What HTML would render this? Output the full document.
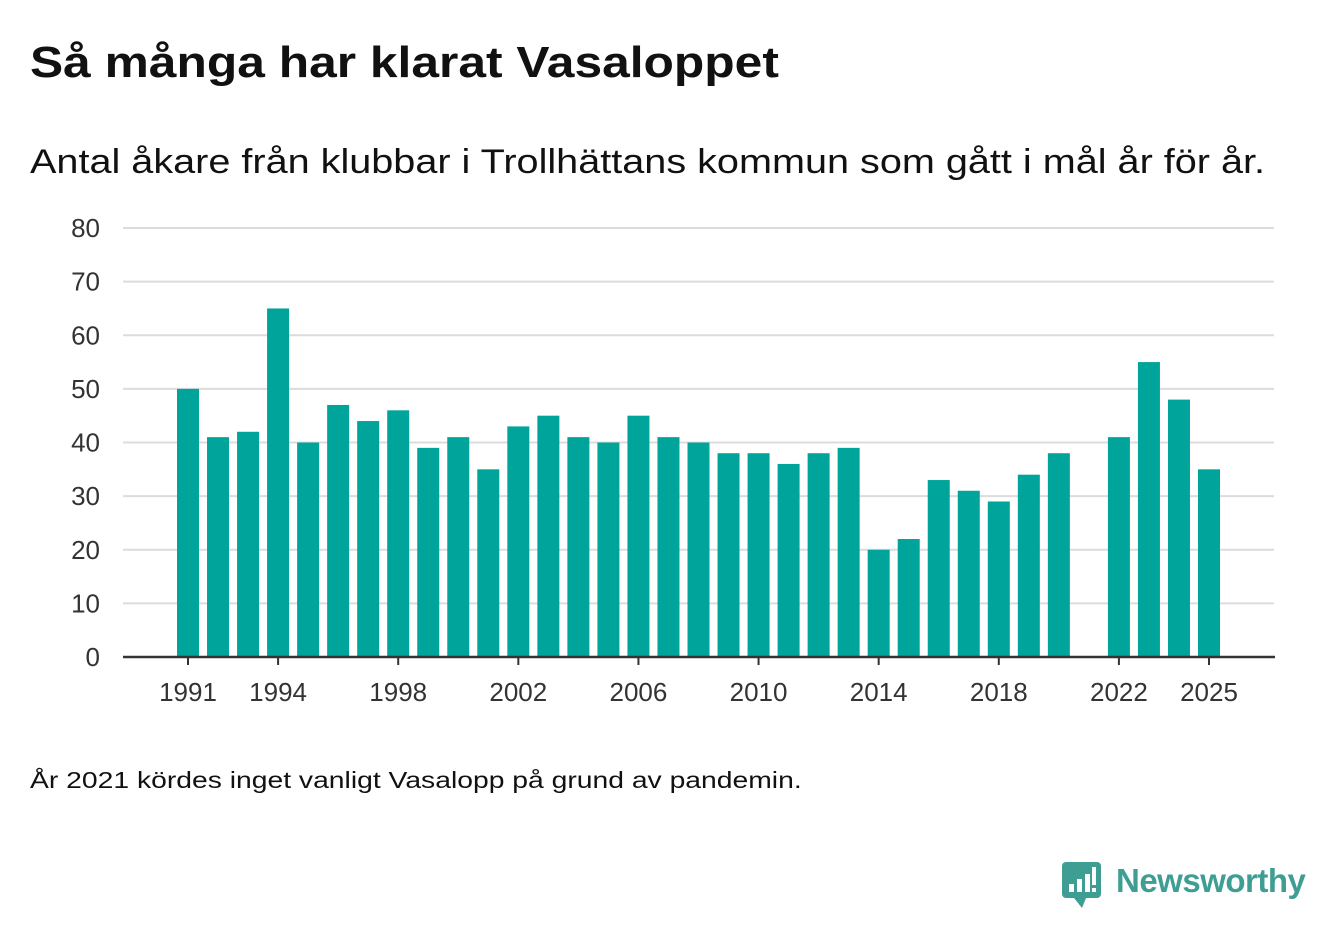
<!DOCTYPE html>
<html><head><meta charset="utf-8"><style>
body{margin:0;width:1340px;height:940px;background:#fff;font-family:"Liberation Sans",sans-serif;color:#111;position:relative;overflow:hidden}
#title{position:absolute;left:30px;top:38px;font-size:44px;font-weight:bold;margin:0;transform:scaleX(1.13);transform-origin:left top;white-space:nowrap}
#sub{position:absolute;left:30px;top:143px;font-size:34px;transform:scaleX(1.165);transform-origin:left top;white-space:nowrap}
#note{position:absolute;left:30px;top:767px;font-size:23px;transform:scaleX(1.23);transform-origin:left top;white-space:nowrap}
svg{position:absolute;left:0;top:0}
</style></head><body>
<h1 id="title">Så många har klarat Vasaloppet</h1>
<div id="sub">Antal åkare från klubbar i Trollhättans kommun som gått i mål år för år.</div>
<div id="note">År 2021 kördes inget vanligt Vasalopp på grund av pandemin.</div>
<svg id="chart" width="1340" height="940"></svg>
<div style="position:absolute;left:1062px;top:862px;">
<svg width="40" height="48" style="position:static"><rect x="0" y="0" width="39" height="36" rx="4" fill="#3f9e94"/><path d="M12 36 L20 46 L24 36Z" fill="#3f9e94"/><rect x="7" y="22" width="5" height="8" fill="#fff"/><rect x="15" y="17" width="5" height="13" fill="#fff"/><rect x="23" y="12" width="5" height="18" fill="#fff"/><rect x="30" y="5" width="4" height="18" fill="#fff"/><rect x="30" y="26" width="4" height="4" fill="#fff"/></svg>
<span style="position:absolute;left:54px;top:0px;font-size:33px;color:#3f9e94;font-weight:bold;white-space:nowrap;letter-spacing:-0.5px">Newsworthy</span>
</div>
<script>
const years=[1991,1992,1993,1994,1995,1996,1997,1998,1999,2000,2001,2002,2003,2004,2005,2006,2007,2008,2009,2010,2011,2012,2013,2014,2015,2016,2017,2018,2019,2020,2021,2022,2023,2024,2025];
const values=[50,41,42,65,40,47,44,46,39,41,35,43,45,41,40,45,41,40,38,38,36,38,39,20,22,33,31,29,34,38,null,41,55,48,35];
const yTicks=[0,10,20,30,40,50,60,70,80];
const xTicks=[1991,1994,1998,2002,2006,2010,2014,2018,2022,2025];
const NS="http://www.w3.org/2000/svg";
const svg=document.getElementById('chart');
const x=yr=>188+(yr-1991)*(1209-188)/34;
const y=v=>657-v*(657-228)/80;
function mk(t,a){const e=document.createElementNS(NS,t);for(const k in a)e.setAttribute(k,a[k]);svg.appendChild(e);return e;}
yTicks.forEach(t=>{
 if(t>0){const g=mk('line',{x1:123,x2:1274,y1:y(t),y2:y(t),stroke:'#dcdcdc','stroke-width':2});
 
 }
 const l=mk('text',{x:100,y:y(t)+9,'text-anchor':'end','font-size':26,fill:'#333','font-family':'Liberation Sans, sans-serif'});
 l.textContent=t;
 
 
});
years.forEach((yr,i)=>{
 if(values[i]==null)return;
 const b=mk('rect',{x:x(yr)-11,y:y(values[i]),width:22,height:657-y(values[i]),fill:'#00a49a'});
 
 
});
const ax=mk('line',{x1:123,x2:1275,y1:657,y2:657,stroke:'#333','stroke-width':2.5});


xTicks.forEach(t=>{
 const tk=mk('line',{x1:x(t),x2:x(t),y1:657,y2:665,stroke:'#333','stroke-width':2});
 
 
 const l=mk('text',{x:x(t),y:701,'text-anchor':'middle','font-size':26,fill:'#333','font-family':'Liberation Sans, sans-serif'});
 l.textContent=t;
 
 
});
</script>
</body></html>
